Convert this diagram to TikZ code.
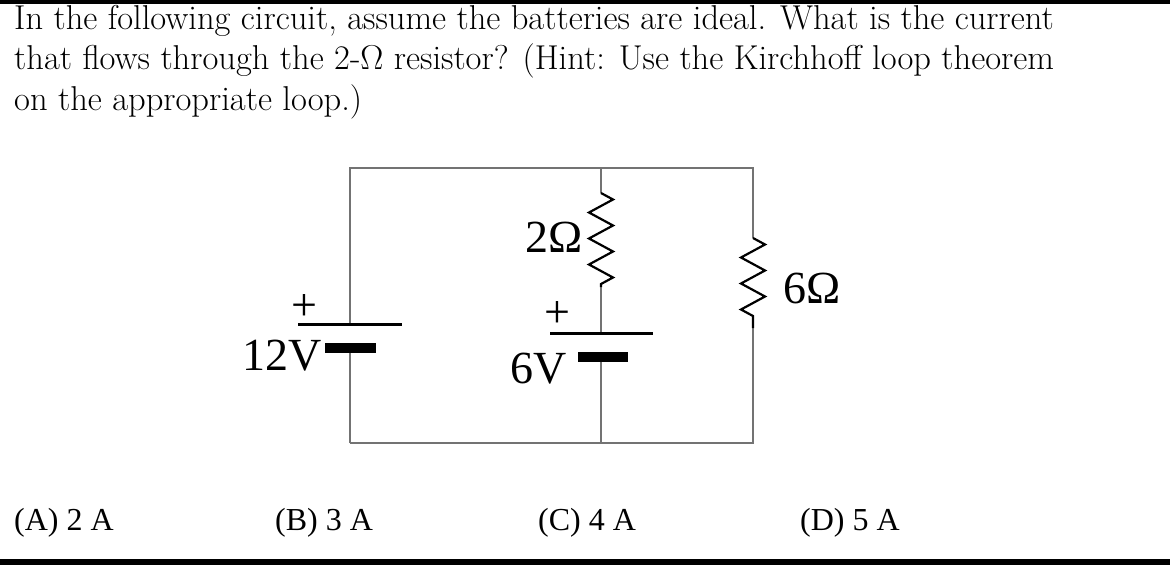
\documentclass[tikz,border=0pt]{standalone}
\usepackage{fontspec}
\newfontfamily\timesfont{Liberation Serif}
\usetikzlibrary{decorations.pathmorphing}
\begin{document}
\begin{tikzpicture}[x=1pt, y=-1pt,
  wire/.style={black!55, line width=1.3},
  res/.style={black, line width=2.2, decorate, decoration={zigzag, segment length=26, amplitude=12}},
  plate/.style={black, line width=3},
  cell/.style={black, line width=10},
  big/.style={font=\timesfont\fontsize{46}{50}\selectfont}]
\useasboundingbox (0,0) rectangle (1170,565);
\fill[black] (0,0) rectangle (1170,4);
\fill[black] (0,559) rectangle (1170,565);
\node[anchor=north west, align=left, inner sep=0,
  font=\fontsize{34.5}{40.5}\selectfont] (question) at (14,5)
  {In the following circuit, assume the batteries are ideal. What is the current\\
   that flows through the 2-Ω resistor? (Hint: Use the Kirchhoff loop theorem\\
   on the appropriate loop.)};
% corners of the circuit
\coordinate (tl) at (350,168); \coordinate (tm) at (601,168); \coordinate (tr) at (753,168);
\coordinate (bl) at (350,443); \coordinate (bm) at (601,443); \coordinate (br) at (753,443);
\draw[wire] (bl) -- (tl) -- (tr) -- (br) -- (bl);
\draw[wire] (tm) -- (bm);
% left battery
\fill[white] (345,325) rectangle (355,343);
\draw[plate] (298,324) -- (402,324);
\draw[cell] (325,348) -- (376,348);
\node[big, anchor=base east, inner sep=0] (v12) at (322,370) {12V};
\node[big, anchor=center, inner sep=0] (p12) at (304,308) {+};
% middle branch
\fill[white] (595,193) rectangle (607,287);
\fill[white] (595,335) rectangle (607,352);
\draw[res] (601,193) -- (601,287);
\draw[plate] (550,333) -- (653,333);
\draw[cell] (578,357) -- (628,357);
\node[big, anchor=center, inner sep=0] (p6) at (557,315) {+};
\node[big, anchor=base east, inner sep=0] (v6) at (567,383) {6V};
\node[big, anchor=base east, inner sep=0] (r2) at (583,252) {2Ω};
% right branch
\fill[white] (747,238) rectangle (759,328);
\draw[res] (753,238) -- (753,328);
\node[big, anchor=base west, inner sep=0] (r6) at (783,303) {6Ω};
% answers
\foreach \x/\t in {14/(A) 2 A, 275/(B) 3 A, 538/(C) 4 A, 800/(D) 5 A}
  \node[anchor=base west, inner sep=0, font=\timesfont\fontsize{32}{36}\selectfont] at (\x,530) {\t};
\end{tikzpicture}
\end{document}
